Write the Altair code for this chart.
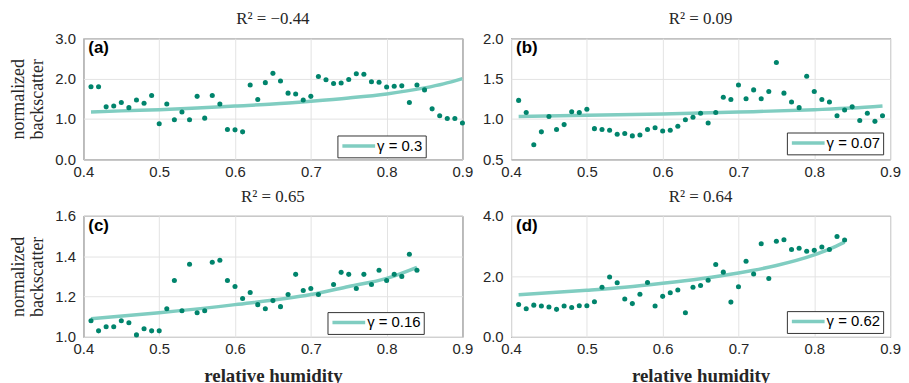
import altair as alt
import pandas as pd

# ---------------- data ----------------
rh_a = [0.41, 0.42, 0.43, 0.44, 0.45, 0.46, 0.47, 0.48, 0.49, 0.50,
        0.51, 0.52, 0.53, 0.54, 0.55, 0.56, 0.57, 0.58, 0.59, 0.60,
        0.61, 0.62, 0.63, 0.64, 0.65, 0.66, 0.67, 0.68, 0.69, 0.70,
        0.71, 0.72, 0.73, 0.74, 0.75, 0.76, 0.77, 0.78, 0.79, 0.80,
        0.81, 0.82, 0.83, 0.84, 0.85, 0.86, 0.87, 0.88, 0.89, 0.90]
bs_a = [1.80, 1.80, 1.30, 1.32, 1.41, 1.28, 1.47, 1.39, 1.58, 0.88,
        1.37, 0.98, 1.17, 0.98, 1.56, 1.02, 1.58, 1.37, 0.74, 0.73,
        0.68, 1.84, 1.48, 1.90, 2.13, 1.94, 1.64, 1.62, 1.47, 1.56,
        2.05, 1.97, 1.88, 1.89, 1.98, 2.12, 2.11, 1.92, 1.91, 1.79,
        1.81, 1.82, 1.41, 1.84, 1.72, 1.25, 1.08, 1.01, 1.01, 0.90]
fit_rh_a = [0.41, 0.45, 0.50, 0.55, 0.60, 0.65, 0.70, 0.75, 0.80, 0.85, 0.875, 0.90]
fit_a = [1.17, 1.20, 1.23, 1.27, 1.32, 1.37, 1.44, 1.52, 1.62, 1.77, 1.87, 2.00]

rh_b = [0.41, 0.42, 0.43, 0.44, 0.45, 0.46, 0.47, 0.48, 0.49, 0.50,
        0.51, 0.52, 0.53, 0.54, 0.55, 0.56, 0.57, 0.58, 0.59, 0.60,
        0.61, 0.62, 0.63, 0.64, 0.65, 0.66, 0.67, 0.68, 0.69, 0.70,
        0.71, 0.72, 0.73, 0.74, 0.75, 0.76, 0.77, 0.78, 0.79, 0.80,
        0.81, 0.82, 0.83, 0.84, 0.85, 0.86, 0.87, 0.88, 0.89]
bs_b = [1.23, 1.08, 0.68, 0.84, 1.03, 0.87, 0.93, 1.09, 1.08, 1.12,
        0.88, 0.87, 0.86, 0.81, 0.82, 0.79, 0.80, 0.87, 0.89, 0.85,
        0.86, 0.91, 0.99, 1.02, 1.07, 0.95, 1.08, 1.27, 1.24, 1.42,
        1.25, 1.36, 1.25, 1.34, 1.70, 1.32, 1.21, 1.14, 1.53, 1.34,
        1.24, 1.21, 1.04, 1.11, 1.15, 0.98, 1.07, 0.97, 1.04]
fit_rh_b = [0.41, 0.50, 0.60, 0.70, 0.80, 0.85, 0.89]
fit_b = [1.03, 1.045, 1.06, 1.085, 1.115, 1.135, 1.16]

rh_c = [0.41, 0.42, 0.43, 0.44, 0.45, 0.46, 0.47, 0.48, 0.49, 0.50,
        0.51, 0.52, 0.53, 0.54, 0.55, 0.56, 0.57, 0.58, 0.59, 0.60,
        0.61, 0.62, 0.63, 0.64, 0.65, 0.66, 0.67, 0.68, 0.69, 0.70,
        0.71, 0.73, 0.74, 0.75, 0.76, 0.77, 0.78, 0.79, 0.80,
        0.81, 0.82, 0.83, 0.84]
bs_c = [1.08, 1.03, 1.05, 1.05, 1.08, 1.07, 1.01, 1.04, 1.03, 1.03,
        1.14, 1.28, 1.13, 1.36, 1.12, 1.13, 1.37, 1.38, 1.28, 1.25,
        1.19, 1.22, 1.16, 1.14, 1.18, 1.15, 1.21, 1.31, 1.23, 1.24,
        1.21, 1.26, 1.32, 1.31, 1.24, 1.31, 1.26, 1.33, 1.28,
        1.31, 1.30, 1.41, 1.33]
fit_rh_c = [0.41, 0.50, 0.60, 0.70, 0.75, 0.80, 0.84]
fit_c = [1.09, 1.12, 1.16, 1.21, 1.25, 1.29, 1.345]

rh_d = [0.41, 0.42, 0.43, 0.44, 0.45, 0.46, 0.47, 0.48, 0.49, 0.50,
        0.51, 0.52, 0.53, 0.54, 0.55, 0.56, 0.57, 0.58, 0.59, 0.60,
        0.61, 0.62, 0.63, 0.64, 0.65, 0.66, 0.67, 0.68, 0.69, 0.70,
        0.71, 0.72, 0.73, 0.74, 0.75, 0.76, 0.77, 0.78, 0.79, 0.80,
        0.81, 0.82, 0.83, 0.84]
bs_d = [1.07, 0.93, 1.05, 1.02, 0.99, 0.91, 1.02, 0.97, 1.03, 1.03,
        1.16, 1.64, 1.98, 1.79, 1.25, 1.10, 1.41, 1.80, 1.02, 1.34,
        1.46, 1.55, 0.80, 1.64, 1.70, 1.87, 2.39, 2.14, 1.15, 1.66,
        2.50, 2.08, 3.08, 1.93, 3.16, 3.21, 2.89, 2.93, 2.83, 2.86,
        2.97, 2.89, 3.32, 3.20]
fit_rh_d = [0.41, 0.50, 0.55, 0.60, 0.65, 0.70, 0.75, 0.80, 0.82, 0.84]
fit_d = [1.39, 1.54, 1.64, 1.77, 1.92, 2.11, 2.36, 2.71, 2.90, 3.13]

titles = ["R\u00b2 = \u22120.44", "R\u00b2 = 0.09", "R\u00b2 = 0.65", "R\u00b2 = 0.64"]
tags = ["(a)", "(b)", "(c)", "(d)"]
gammas = ["\u03b3 = 0.3", "\u03b3 = 0.07", "\u03b3 = 0.16", "\u03b3 = 0.62"]
x_ticks = [0.4, 0.5, 0.6, 0.7, 0.8, 0.9]
y_doms = [[0.0, 3.0], [0.5, 2.0], [1.0, 1.6], [0.0, 4.0]]
y_ticks = [[0.0, 1.0, 2.0, 3.0], [0.5, 1.0, 1.5, 2.0], [1.0, 1.2, 1.4, 1.6], [0.0, 2.0, 4.0]]

POINT = "#00846c"
LINE = "#80cdc1"
W, H = 382, 122


def panel(i, rh, bs, frh, fbs, show_y, show_x, leg_x, leg_y):
    pts = pd.DataFrame({"rh": rh, "bs": bs})
    fit = pd.DataFrame({"rh": frh, "bs": fbs, "lab": gammas[i]})
    tag = pd.DataFrame({"t": [tags[i]]})

    xenc = alt.X("rh:Q",
                 scale=alt.Scale(domain=[0.4, 0.9], nice=False, zero=False),
                 axis=alt.Axis(values=x_ticks, format=".1f", labelFlush=False),
                 title="relative humidity" if show_x else None)
    yenc = alt.Y("bs:Q",
                 scale=alt.Scale(domain=y_doms[i], nice=False, zero=False),
                 axis=alt.Axis(values=y_ticks[i], format=".1f", labelFlush=False),
                 title=["normalized", "backscatter"] if show_y else None)

    line = alt.Chart(fit).mark_line(strokeWidth=3.5, interpolate="monotone").encode(
        x=xenc, y=yenc,
        color=alt.Color("lab:N", scale=alt.Scale(range=[LINE]), title=None,
                        legend=alt.Legend(orient="none", legendX=leg_x, legendY=leg_y,
                                          symbolType="M-1,0H5", symbolSize=121,
                                          symbolStrokeWidth=3.5,
                                          labelFont="Liberation Sans", labelFontSize=15,
                                          labelColor="#000000", labelOffset=22,
                                          fillColor="white", strokeColor="#333333",
                                          padding=3)))
    dots = alt.Chart(pts).mark_circle(size=26, opacity=1, color=POINT).encode(x=xenc, y=yenc)
    label = alt.Chart(tag).mark_text(font="Liberation Sans", fontWeight="bold", fontSize=17,
                                     align="left", baseline="top", color="#000000").encode(
        text="t:N", x=alt.value(5), y=alt.value(2))

    return alt.layer(line, dots, label).properties(
        width=W, height=H,
        title=alt.TitleParams(titles[i], font="Liberation Serif", fontSize=17,
                              fontWeight="normal", color="#262626", offset=3))


pa = panel(0, rh_a, bs_a, fit_rh_a, fit_a, True, False, 256, 98)
pb = panel(1, rh_b, bs_b, fit_rh_b, fit_b, False, False, 278, 95)
pc = panel(2, rh_c, bs_c, fit_rh_c, fit_c, True, True, 246, 97)
pd_ = panel(3, rh_d, bs_d, fit_rh_d, fit_d, False, True, 278, 96)

chart = alt.concat(pa, pb, pc, pd_, columns=2, bounds="flush",
                   spacing={"row": 57, "column": 49}).resolve_scale(
    x="independent", y="independent", color="independent"
).properties(
    padding={"left": 0, "top": 0, "right": 0, "bottom": 0}
).configure(background="white").configure_axis(
    grid=True, gridColor="#e3e3e3", gridWidth=1, domain=False, ticks=False,
    labelFont="Liberation Sans", labelFontSize=15, labelColor="#262626",
    titleFont="Liberation Serif", titleFontSize=18, titleColor="#262626",
    titleFontWeight="normal"
).configure_axisY(labelPadding=8, titlePadding=8, titleLineHeight=20
).configure_axisX(labelPadding=5, titlePadding=10, titleFontWeight="bold", titleFontSize=19
).configure_view(stroke="#262626", strokeWidth=1)

chart.save("out.html", embed_options={"renderer": "svg", "actions": False})
